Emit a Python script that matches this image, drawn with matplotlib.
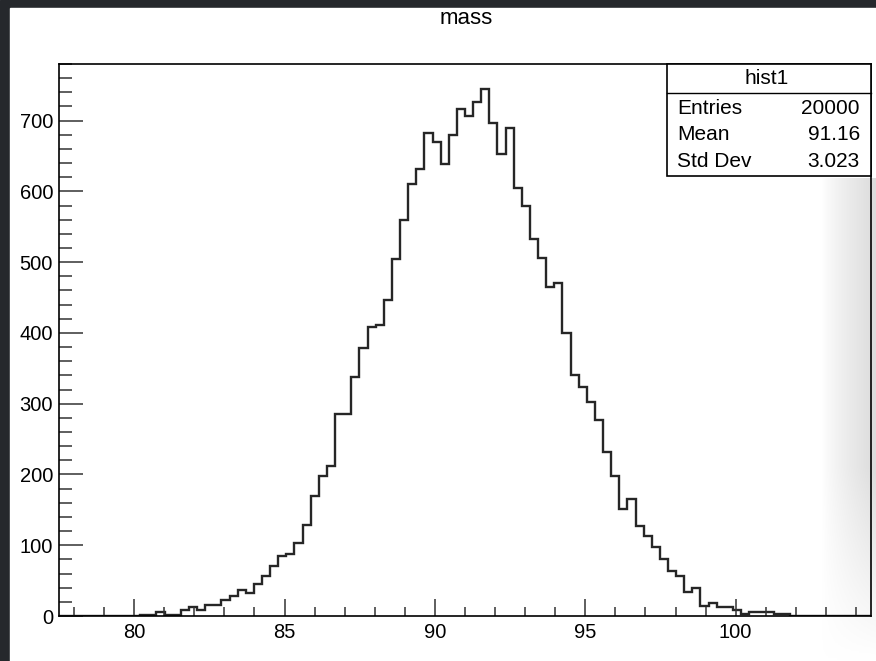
import numpy as np
import matplotlib
matplotlib.use("Agg")
import matplotlib.pyplot as plt
from matplotlib.patches import Rectangle
from matplotlib.lines import Line2D
from matplotlib.colors import LinearSegmentedColormap
from matplotlib.ticker import MultipleLocator

W, H = 876, 661  # output size in pixels

# histogram "hist1": 100 bins over [77.5, 104.5]
x_lo, x_hi, n_bins = 77.5, 104.5, 100
counts = [
    0, 0, 0, 0, 0, 0, 0, 0, 0, 0,
    2, 1, 5, 1, 1, 8, 13, 9, 15, 15,
    22, 28, 37, 33, 45, 57, 71, 85, 87, 103,
    129, 170, 198, 212, 286, 286, 338, 378, 409, 411,
    446, 505, 559, 611, 632, 683, 670, 639, 680, 717,
    707, 726, 744, 697, 653, 689, 605, 580, 533, 506,
    465, 471, 400, 341, 324, 303, 277, 232, 198, 151,
    165, 127, 113, 97, 80, 64, 56, 34, 39, 14,
    19, 13, 13, 8, 3, 6, 6, 6, 3, 3,
    0, 0, 0, 0, 0, 0, 0, 0, 0, 0,
]
x_major = [80, 85, 90, 95, 100]
y_major = [0, 100, 200, 300, 400, 500, 600, 700]
y_top = 780

title = "mass"
stats_title = "hist1"
stat_names = ["Entries", "Mean", "Std Dev"]
stat_values = ["20000", "91.16", "3.023"]

FONT = "Liberation Sans"
plt.rcParams["font.family"] = FONT


def fx(x):
    return x / W


def fy(y):
    return 1 - y / H


fig = plt.figure(figsize=(W / 100, H / 100), dpi=100)

# screenshot backdrop: dark margin, white canvas, grey fade on the right
bg = fig.add_axes([0, 0, 1, 1], zorder=-10)
bg.add_patch(Rectangle((0, 0), W, H, color="#25282c"))
bg.add_patch(Rectangle((10, 8), W - 10, H - 8, color="white"))
fade = LinearSegmentedColormap.from_list("fade", ["white", "#dcdcdc"])
gx = np.linspace(0, 1, 64)[None, :] ** 0.8
gy = np.clip(np.linspace(0, 30, 240)[:, None] / 12, 0, 1)
bg.imshow(gx * gy, extent=(822, W, H, 178), origin="lower",
          cmap=fade, vmin=0, vmax=1, aspect="auto", zorder=3)
bg.set_xlim(0, W); bg.set_ylim(H, 0); bg.axis("off")

# main frame
ax = fig.add_axes([fx(59), fy(616), fx(871) - fx(59), fy(64) - fy(616)])
ax.set_facecolor("none")
edges = np.linspace(x_lo, x_hi, n_bins + 1)
ax.stairs(counts, edges, color="#262626", linewidth=1.7)
ax.set_xlim(x_lo, x_hi)
ax.set_ylim(0, y_top)

for s in ax.spines.values():
    s.set_linewidth(1.2)
    s.set_color("black")

ax.set_xticks(x_major)
ax.xaxis.set_minor_locator(MultipleLocator(1))
ax.set_yticks(y_major)
ax.yaxis.set_minor_locator(MultipleLocator(20))
ax.tick_params(axis="x", which="major", direction="in", length=12, width=1.1,
               pad=5, labelsize=14.5, colors="black")
ax.tick_params(axis="x", which="minor", direction="in", length=6.5, width=1.1)
ax.tick_params(axis="y", which="major", direction="in", length=17.5, width=1.1,
               pad=4.3, labelsize=14.5, colors="black")
ax.tick_params(axis="y", which="minor", direction="in", length=9, width=1.1)
ax.tick_params(which="both", top=False, right=False, color="#333333")

fig.text(fx(466), fy(19), title, ha="center", va="center", fontsize=16)

# stats box
fig.add_artist(Rectangle((fx(667), fy(176)), fx(871) - fx(667), fy(64) - fy(176),
                         transform=fig.transFigure, facecolor="white",
                         edgecolor="black", linewidth=1.2, zorder=5))
fig.add_artist(Line2D([fx(667), fx(871)], [fy(92.5), fy(92.5)],
                      transform=fig.transFigure, color="black", linewidth=1.0, zorder=6))
fig.text(fx(767), fy(78), stats_title, ha="center", va="center", fontsize=15, zorder=7)
for name, val, yy in zip(stat_names, stat_values, [108, 135, 162]):
    fig.text(fx(677), fy(yy), name, ha="left", va="center", fontsize=15, zorder=7)
    fig.text(fx(860), fy(yy), val, ha="right", va="center", fontsize=15, zorder=7)

fig.savefig("out.png", dpi=100)
